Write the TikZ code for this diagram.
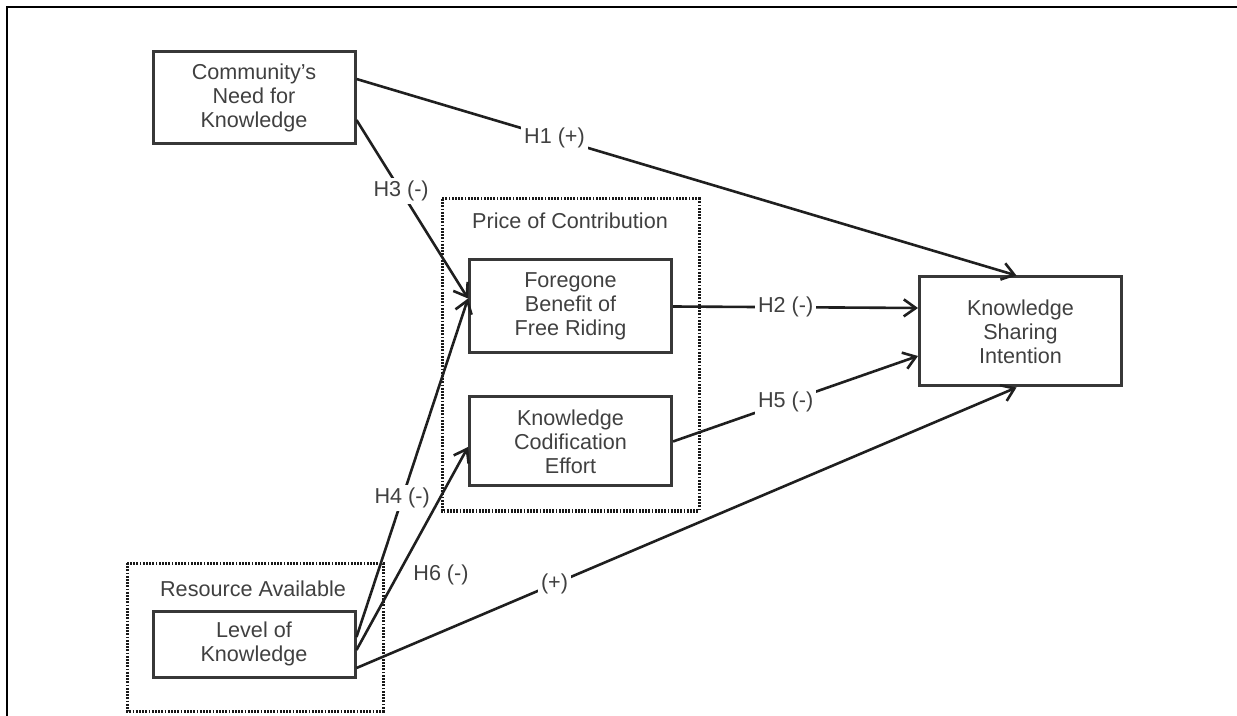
\documentclass[tikz,border=0pt]{standalone}
\usepackage{fontspec}
\setmainfont{Liberation Sans}
\usetikzlibrary{arrows.meta,positioning,calc}

\begin{document}
\begin{tikzpicture}[
      x=0.5pt, y=-0.5pt,
      font=\fontsize{10.8}{12}\selectfont, text=black!75,
      construct/.style={draw=black!78, line width=1.5pt, align=center, inner sep=0pt,
        minimum width=101pt},
      group/.style={draw=black!90, line width=1.5pt, dash pattern=on 0.9pt off 0.7pt},
      link/.style={draw=black!88, line width=1.3pt, -{Straight Barb[length=6pt,width=8.5pt]}},
      hyp/.style={fill=white, inner sep=1.5pt}
      ]

      % cadre
      \useasboundingbox (0,0) rectangle (1237,716);
      \draw[line width=1.3pt] (7,716) -- (7,7) -- (1237,7);

      % groupes
      \draw[group] (442,199) rectangle (699,511);
      \draw[group] (127,563) rectangle (383,711);
      \node (price) at (570,221) {Price of Contribution};
      \node (resource) at (253,589) {Resource Available};

      \node[construct, minimum height=46pt] (need) at (254,98) {Community{\char"27}s\\Need for\\Knowledge};
      \node[construct, minimum height=33pt] (level) at (254,644) {Level of\\Knowledge};
      \node[construct, minimum height=46.5pt] (foregone) at (570.5,306.5) {Foregone\\Benefit of\\Free Riding};
      \node[construct, minimum height=44.5pt] (codif) at (570.5,441.5) {Knowledge\\Codification\\Effort};
      \node[construct, minimum height=54.5pt] (ksi) at (1020.5,331.5) {Knowledge\\Sharing\\Intention};

      \path[link] ([yshift=9.5pt]need.east) -- ([xshift=-2pt]ksi.north) node[hyp,pos=.3] {H1 (+)};
      \path[link] ([yshift=-11pt]need.east) -- ([yshift=4pt]foregone.west) node[hyp,pos=.4] {H3 (-)};
      \path[link] (foregone.east) -- ([yshift=11.75pt]ksi.west) node[hyp,pos=.46] {H2 (-)};
      \path[link] (codif.east) -- ([yshift=-12.25pt]ksi.west) node[hyp,pos=.46] {H5 (-)};
      \path[link] ([yshift=3.5pt]level.east) -- ([yshift=4pt]foregone.west) node[hyp,pos=.41] {H4 (-)};
      \path[link] ([yshift=-3pt]level.east) -- ([yshift=-2.75pt]codif.west);
      \path[link] ([yshift=-12pt]level.east) -- ([xshift=-2pt]ksi.south) node[hyp,pos=.3] {(+)};
      \node (h6) at (441,575) {H6 (-)};
    \end{tikzpicture}
\end{document}
